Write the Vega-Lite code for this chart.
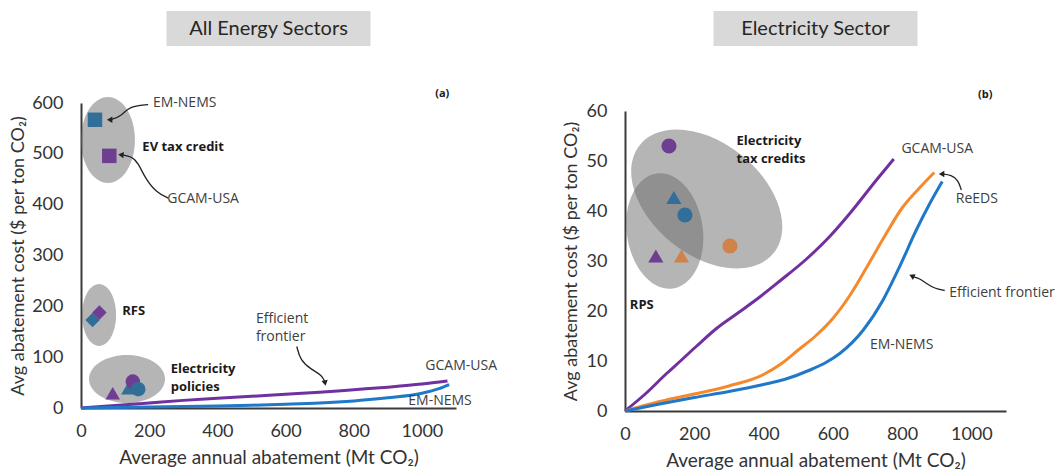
{
  "$schema": "https://vega.github.io/schema/vega-lite/v6.json",
  "background": "white",
  "padding": {"left": 9, "top": 11, "right": 0, "bottom": 0},
  "config": {
    "view": {"stroke": null},
    "font": "Lato",
    "axis": {
      "grid": false, "ticks": false, "domainColor": "#3a3a3a", "domainWidth": 2,
      "labelFont": "Lato", "labelFontSize": 18, "labelColor": "#333333",
      "titleFont": "Lato", "titleFontSize": 18, "titleFontWeight": "normal", "titleColor": "#333333",
      "labelFlush": false, "format": "d"
    }
  },
  "spacing": 65,
  "hconcat": [
    {
      "spacing": 57,
      "center": true,
      "bounds": "flush",
      "vconcat": [
        {
          "width": 204, "height": 35,
          "view": {"fill": "#d9d9d9", "stroke": null},
          "data": {"values": [{"t": "All Energy Sectors"}]},
          "mark": {"type": "text", "fontSize": 20, "font": "Lato", "color": "#262626"},
          "encoding": {"text": {"field": "t"}}
        },
        {
          "width": 375, "height": 305,
          "layer": [
            {
              "data": {"values": [{"group": "EV tax credit", "x": 79, "y": 527}]},
              "mark": {"type": "point", "filled": true, "size": 4, "fill": "#6b6b6b", "opacity": 0.5, "strokeWidth": 0,
                "shape": "M27,0 C27,23.75 14.91,43 0,43 C-14.91,43 -27,23.75 -27,0 C-27,-23.75 -14.91,-43 0,-43 C14.91,-43 27,-23.75 27,0 Z"},
              "encoding": {
                "x": {"field": "x", "type": "quantitative", "scale": {"domain": [0, 1100], "nice": false},
                      "axis": {"values": [0, 200, 400, 600, 800, 1000], "title": "Average annual abatement (Mt CO₂)", "labelPadding": 14, "titlePadding": 8, "titleFontSize": 19}},
                "y": {"field": "y", "type": "quantitative", "scale": {"domain": [0, 600], "nice": false},
                      "axis": {"values": [0, 100, 200, 300, 400, 500, 600], "title": "Avg abatement cost ($ per ton CO₂)", "labelPadding": 18, "titlePadding": 4}}
              }
            },
            {
              "data": {"values": [{"group": "RFS", "x": 53, "y": 183}]},
              "mark": {"type": "point", "filled": true, "size": 4, "fill": "#6b6b6b", "opacity": 0.5, "strokeWidth": 0,
                "shape": "M17,0 C17,17.12 9.39,31 0,31 C-9.39,31 -17,17.12 -17,0 C-17,-17.12 -9.39,-31 0,-31 C9.39,-31 17,-17.12 17,0 Z"},
              "encoding": {
                "x": {"field": "x", "type": "quantitative"},
                "y": {"field": "y", "type": "quantitative"}
              }
            },
            {
              "data": {"values": [{"group": "Electricity policies", "x": 135, "y": 57}]},
              "mark": {"type": "point", "filled": true, "size": 4, "fill": "#6b6b6b", "opacity": 0.5, "strokeWidth": 0,
                "shape": "M38,0 C38,13.26 20.99,24 0,24 C-20.99,24 -38,13.26 -38,0 C-38,-13.26 -20.99,-24 0,-24 C20.99,-24 38,-13.26 38,0 Z"},
              "encoding": {
                "x": {"field": "x", "type": "quantitative"},
                "y": {"field": "y", "type": "quantitative"}
              }
            },
            {
              "data": {"values": [
                {"model": "GCAM-USA", "x": 0, "y": 0}, {"model": "GCAM-USA", "x": 100, "y": 5}, {"model": "GCAM-USA", "x": 200, "y": 10},
                {"model": "GCAM-USA", "x": 300, "y": 15}, {"model": "GCAM-USA", "x": 400, "y": 19}, {"model": "GCAM-USA", "x": 500, "y": 23},
                {"model": "GCAM-USA", "x": 600, "y": 27}, {"model": "GCAM-USA", "x": 700, "y": 31}, {"model": "GCAM-USA", "x": 800, "y": 36},
                {"model": "GCAM-USA", "x": 900, "y": 41}, {"model": "GCAM-USA", "x": 1000, "y": 47}, {"model": "GCAM-USA", "x": 1075, "y": 53},
                {"model": "EM-NEMS", "x": 0, "y": 0}, {"model": "EM-NEMS", "x": 100, "y": 1}, {"model": "EM-NEMS", "x": 200, "y": 2},
                {"model": "EM-NEMS", "x": 300, "y": 3}, {"model": "EM-NEMS", "x": 400, "y": 4}, {"model": "EM-NEMS", "x": 500, "y": 5.5},
                {"model": "EM-NEMS", "x": 600, "y": 7.5}, {"model": "EM-NEMS", "x": 700, "y": 10}, {"model": "EM-NEMS", "x": 800, "y": 14},
                {"model": "EM-NEMS", "x": 900, "y": 20}, {"model": "EM-NEMS", "x": 1000, "y": 29}, {"model": "EM-NEMS", "x": 1050, "y": 38},
                {"model": "EM-NEMS", "x": 1080, "y": 46}
              ]},
              "mark": {"type": "line", "strokeWidth": 3, "interpolate": "monotone"},
              "encoding": {
                "x": {"field": "x", "type": "quantitative"},
                "y": {"field": "y", "type": "quantitative"},
                "stroke": {"field": "model", "type": "nominal", "legend": null,
                  "scale": {"domain": ["GCAM-USA", "EM-NEMS", "ReEDS"], "range": ["#7030a0", "#1f78c8", "#f58a2c"]}}
              }
            },
            {
              "data": {"values": [
                {"model": "EM-NEMS", "policy": "RFS", "x": 34, "y": 173},
                {"model": "GCAM-USA", "policy": "RFS", "x": 54, "y": 188},
                {"model": "GCAM-USA", "policy": "RPS", "x": 93, "y": 29},
                {"model": "EM-NEMS", "policy": "RPS", "x": 139, "y": 39},
                {"model": "GCAM-USA", "policy": "Electricity tax credits", "x": 152, "y": 52},
                {"model": "EM-NEMS", "policy": "Electricity tax credits", "x": 168, "y": 37},
                {"model": "EM-NEMS", "policy": "EV tax credit", "x": 41, "y": 567},
                {"model": "GCAM-USA", "policy": "EV tax credit", "x": 83, "y": 496}
              ]},
              "mark": {"type": "point", "filled": true, "size": 210, "opacity": 1, "strokeWidth": 0},
              "encoding": {
                "x": {"field": "x", "type": "quantitative"},
                "y": {"field": "y", "type": "quantitative"},
                "fill": {"field": "model", "type": "nominal", "legend": null,
                  "scale": {"domain": ["GCAM-USA", "EM-NEMS", "ReEDS"], "range": ["#6e3f91", "#316f99", "#cf8249"]}},
                "shape": {"field": "policy", "type": "nominal", "legend": null,
                  "scale": {"domain": ["EV tax credit", "RFS", "RPS", "Electricity tax credits"], "range": ["square", "diamond", "triangle-up", "circle"]}}
              }
            },
            {
              "data": {"values": [
                {"arrow": 1, "i": 1, "x": 197, "y": 597}, {"arrow": 1, "i": 2, "x": 139, "y": 593}, {"arrow": 1, "i": 3, "x": 119, "y": 574}, {"arrow": 1, "i": 4, "x": 86, "y": 567},
                {"arrow": 2, "i": 1, "x": 256, "y": 413}, {"arrow": 2, "i": 2, "x": 222, "y": 423}, {"arrow": 2, "i": 3, "x": 188, "y": 452}, {"arrow": 2, "i": 4, "x": 168, "y": 482}, {"arrow": 2, "i": 5, "x": 149, "y": 495}, {"arrow": 2, "i": 6, "x": 120, "y": 498},
                {"arrow": 3, "i": 1, "x": 633, "y": 121}, {"arrow": 3, "i": 2, "x": 643, "y": 94}, {"arrow": 3, "i": 3, "x": 677, "y": 75}, {"arrow": 3, "i": 4, "x": 706, "y": 65}, {"arrow": 3, "i": 5, "x": 715, "y": 52}
              ]},
              "mark": {"type": "line", "strokeWidth": 1.3, "color": "#222222", "interpolate": "basis"},
              "encoding": {
                "x": {"field": "x", "type": "quantitative"},
                "y": {"field": "y", "type": "quantitative"},
                "detail": {"field": "arrow", "type": "nominal"},
                "order": {"field": "i", "type": "quantitative"}
              }
            },
            {
              "data": {"values": [
                {"x": 84, "y": 567, "dir": -90},
                {"x": 117, "y": 498, "dir": -85},
                {"x": 716, "y": 49, "dir": 170}
              ]},
              "mark": {"type": "point", "shape": "triangle-up", "filled": true, "size": 40, "color": "#222222", "opacity": 1},
              "encoding": {
                "x": {"field": "x", "type": "quantitative"},
                "y": {"field": "y", "type": "quantitative"},
                "angle": {"field": "dir", "type": "quantitative", "scale": null}
              }
            },
            {
              "data": {"values": [
                {"label": "EM-NEMS", "x": 211, "y": 600},
                {"label": "GCAM-USA", "x": 253, "y": 411},
                {"label": "Efficient", "x": 513, "y": 175},
                {"label": "frontier", "x": 513, "y": 139},
                {"label": "GCAM-USA", "x": 1010, "y": 83},
                {"label": "EM-NEMS", "x": 960, "y": 14}
              ]},
              "mark": {"type": "text", "align": "left", "baseline": "middle", "font": "Open Sans", "fontSize": 14, "color": "#404040"},
              "encoding": {
                "x": {"field": "x", "type": "quantitative"},
                "y": {"field": "y", "type": "quantitative"},
                "text": {"field": "label"}
              }
            },
            {
              "data": {"values": [
                {"label": "EV tax credit", "x": 180, "y": 514},
                {"label": "RFS", "x": 121, "y": 191},
                {"label": "Electricity", "x": 263, "y": 77},
                {"label": "policies", "x": 263, "y": 42}
              ]},
              "mark": {"type": "text", "align": "left", "baseline": "middle", "font": "Open Sans", "fontSize": 13, "fontWeight": "bold", "color": "#1a1a1a"},
              "encoding": {
                "x": {"field": "x", "type": "quantitative"},
                "y": {"field": "y", "type": "quantitative"},
                "text": {"field": "label"}
              }
            },
            {
              "data": {"values": [{"label": "(a)", "x": 1039, "y": 618}]},
              "mark": {"type": "text", "align": "left", "baseline": "middle", "font": "Open Sans", "fontSize": 11, "fontWeight": "bold", "color": "#1a1a1a"},
              "encoding": {
                "x": {"field": "x", "type": "quantitative"},
                "y": {"field": "y", "type": "quantitative"},
                "text": {"field": "label"}
              }
            }
          ]
        }
      ]
    },
    {
      "spacing": 65,
      "center": true,
      "bounds": "flush",
      "vconcat": [
        {
          "width": 204, "height": 35,
          "view": {"fill": "#d9d9d9", "stroke": null},
          "data": {"values": [{"t": "Electricity Sector"}]},
          "mark": {"type": "text", "fontSize": 20, "font": "Lato", "color": "#262626"},
          "encoding": {"text": {"field": "t"}}
        },
        {
          "width": 381, "height": 300,
          "layer": [
            {
              "data": {"values": [{"group": "Electricity tax credits", "x": 236, "y": 42.4}]},
              "mark": {"type": "point", "filled": true, "size": 4, "fill": "#6b6b6b", "opacity": 0.5, "strokeWidth": 0, "angle": 39,
                "shape": "M86,0 C86,30.93 47.5,56 0,56 C-47.5,56 -86,30.93 -86,0 C-86,-30.93 -47.5,-56 0,-56 C47.5,-56 86,-30.93 86,0 Z"},
              "encoding": {
                "x": {"field": "x", "type": "quantitative", "scale": {"domain": [0, 1100], "nice": false},
                      "axis": {"values": [0, 200, 400, 600, 800, 1000], "title": "Average annual abatement (Mt CO₂)", "labelPadding": 14, "titlePadding": 8, "titleFontSize": 19}},
                "y": {"field": "y", "type": "quantitative", "scale": {"domain": [0, 60], "nice": false},
                      "axis": {"values": [0, 10, 20, 30, 40, 50, 60], "title": "Avg abatement cost ($ per ton CO₂)", "labelPadding": 18, "titlePadding": 6}}
              }
            },
            {
              "data": {"values": [{"group": "RPS", "x": 115, "y": 36}]},
              "mark": {"type": "point", "filled": true, "size": 4, "fill": "#6b6b6b", "opacity": 0.5, "strokeWidth": 0, "angle": -8,
                "shape": "M38,0 C38,32.03 20.99,58 0,58 C-20.99,58 -38,32.03 -38,0 C-38,-32.03 -20.99,-58 0,-58 C20.99,-58 38,-32.03 38,0 Z"},
              "encoding": {
                "x": {"field": "x", "type": "quantitative"},
                "y": {"field": "y", "type": "quantitative"}
              }
            },
            {
              "data": {"values": [
                {"model": "GCAM-USA", "x": 0, "y": 0}, {"model": "GCAM-USA", "x": 60, "y": 3.5}, {"model": "GCAM-USA", "x": 120, "y": 7.5},
                {"model": "GCAM-USA", "x": 160, "y": 10}, {"model": "GCAM-USA", "x": 207, "y": 13}, {"model": "GCAM-USA", "x": 264, "y": 16.5},
                {"model": "GCAM-USA", "x": 330, "y": 19.8}, {"model": "GCAM-USA", "x": 389, "y": 22.8}, {"model": "GCAM-USA", "x": 447, "y": 26},
                {"model": "GCAM-USA", "x": 524, "y": 30.4}, {"model": "GCAM-USA", "x": 591, "y": 34.9}, {"model": "GCAM-USA", "x": 649, "y": 39.5},
                {"model": "GCAM-USA", "x": 726, "y": 46.2}, {"model": "GCAM-USA", "x": 776, "y": 50.4},
                {"model": "ReEDS", "x": 0, "y": 0}, {"model": "ReEDS", "x": 100, "y": 1.9}, {"model": "ReEDS", "x": 200, "y": 3.4},
                {"model": "ReEDS", "x": 300, "y": 5}, {"model": "ReEDS", "x": 400, "y": 7.3}, {"model": "ReEDS", "x": 450, "y": 9.4},
                {"model": "ReEDS", "x": 500, "y": 12.2}, {"model": "ReEDS", "x": 550, "y": 15}, {"model": "ReEDS", "x": 600, "y": 18.5},
                {"model": "ReEDS", "x": 650, "y": 23.2}, {"model": "ReEDS", "x": 700, "y": 29}, {"model": "ReEDS", "x": 750, "y": 35},
                {"model": "ReEDS", "x": 800, "y": 40.6}, {"model": "ReEDS", "x": 850, "y": 44.6}, {"model": "ReEDS", "x": 893, "y": 47.7},
                {"model": "EM-NEMS", "x": 0, "y": 0}, {"model": "EM-NEMS", "x": 100, "y": 1.4}, {"model": "EM-NEMS", "x": 200, "y": 2.7},
                {"model": "EM-NEMS", "x": 300, "y": 3.9}, {"model": "EM-NEMS", "x": 400, "y": 5.3},
                {"model": "EM-NEMS", "x": 460, "y": 6.3}, {"model": "EM-NEMS", "x": 534, "y": 8.2}, {"model": "EM-NEMS", "x": 580, "y": 9.7},
                {"model": "EM-NEMS", "x": 620, "y": 11.5}, {"model": "EM-NEMS", "x": 688, "y": 16.2}, {"model": "EM-NEMS", "x": 745, "y": 22.2},
                {"model": "EM-NEMS", "x": 793, "y": 28.9}, {"model": "EM-NEMS", "x": 841, "y": 36.2}, {"model": "EM-NEMS", "x": 880, "y": 41.5},
                {"model": "EM-NEMS", "x": 916, "y": 45.9}
              ]},
              "mark": {"type": "line", "strokeWidth": 3, "interpolate": "monotone"},
              "encoding": {
                "x": {"field": "x", "type": "quantitative"},
                "y": {"field": "y", "type": "quantitative"},
                "stroke": {"field": "model", "type": "nominal", "legend": null,
                  "scale": {"domain": ["GCAM-USA", "EM-NEMS", "ReEDS"], "range": ["#7030a0", "#1f78c8", "#f58a2c"]}}
              }
            },
            {
              "data": {"values": [
                {"model": "GCAM-USA", "policy": "Electricity tax credits", "x": 127, "y": 53},
                {"model": "EM-NEMS", "policy": "RPS", "x": 141, "y": 42.7},
                {"model": "EM-NEMS", "policy": "Electricity tax credits", "x": 173, "y": 39.2},
                {"model": "ReEDS", "policy": "Electricity tax credits", "x": 303, "y": 33},
                {"model": "GCAM-USA", "policy": "RPS", "x": 89, "y": 31},
                {"model": "ReEDS", "policy": "RPS", "x": 163, "y": 31}
              ]},
              "mark": {"type": "point", "filled": true, "size": 230, "opacity": 1, "strokeWidth": 0},
              "encoding": {
                "x": {"field": "x", "type": "quantitative"},
                "y": {"field": "y", "type": "quantitative"},
                "fill": {"field": "model", "type": "nominal", "legend": null,
                  "scale": {"domain": ["GCAM-USA", "EM-NEMS", "ReEDS"], "range": ["#7a3f9a", "#3a7096", "#d0834a"]}},
                "shape": {"field": "policy", "type": "nominal", "legend": null,
                  "scale": {"domain": ["EV tax credit", "RFS", "RPS", "Electricity tax credits"], "range": ["square", "diamond", "triangle-up", "circle"]}}
              }
            },
            {
              "data": {"values": [
                {"arrow": 1, "i": 1, "x": 971, "y": 44.2}, {"arrow": 1, "i": 2, "x": 962, "y": 46.2}, {"arrow": 1, "i": 3, "x": 942, "y": 47.2}, {"arrow": 1, "i": 4, "x": 916, "y": 47.4},
                {"arrow": 2, "i": 1, "x": 923, "y": 24.1}, {"arrow": 2, "i": 2, "x": 894, "y": 24.5}, {"arrow": 2, "i": 3, "x": 870, "y": 25.5}, {"arrow": 2, "i": 4, "x": 851, "y": 26.5}, {"arrow": 2, "i": 5, "x": 830, "y": 26.9}
              ]},
              "mark": {"type": "line", "strokeWidth": 1.3, "color": "#222222", "interpolate": "basis"},
              "encoding": {
                "x": {"field": "x", "type": "quantitative"},
                "y": {"field": "y", "type": "quantitative"},
                "detail": {"field": "arrow", "type": "nominal"},
                "order": {"field": "i", "type": "quantitative"}
              }
            },
            {
              "data": {"values": [
                {"x": 914, "y": 47.4, "dir": -90},
                {"x": 828, "y": 27, "dir": -65}
              ]},
              "mark": {"type": "point", "shape": "triangle-up", "filled": true, "size": 40, "color": "#222222", "opacity": 1},
              "encoding": {
                "x": {"field": "x", "type": "quantitative"},
                "y": {"field": "y", "type": "quantitative"},
                "angle": {"field": "dir", "type": "quantitative", "scale": null}
              }
            },
            {
              "data": {"values": [
                {"label": "GCAM-USA", "x": 798, "y": 52.4},
                {"label": "ReEDS", "x": 955, "y": 42.4},
                {"label": "Efficient frontier", "x": 936, "y": 23.7},
                {"label": "EM-NEMS", "x": 707, "y": 13.2}
              ]},
              "mark": {"type": "text", "align": "left", "baseline": "middle", "font": "Open Sans", "fontSize": 14, "color": "#404040"},
              "encoding": {
                "x": {"field": "x", "type": "quantitative"},
                "y": {"field": "y", "type": "quantitative"},
                "text": {"field": "label"}
              }
            },
            {
              "data": {"values": [
                {"label": "Electricity", "x": 322, "y": 54},
                {"label": "tax credits", "x": 322, "y": 50.4},
                {"label": "RPS", "x": 14, "y": 21.3}
              ]},
              "mark": {"type": "text", "align": "left", "baseline": "middle", "font": "Open Sans", "fontSize": 13, "fontWeight": "bold", "color": "#1a1a1a"},
              "encoding": {
                "x": {"field": "x", "type": "quantitative"},
                "y": {"field": "y", "type": "quantitative"},
                "text": {"field": "label"}
              }
            },
            {
              "data": {"values": [{"label": "(b)", "x": 1019, "y": 63.2}]},
              "mark": {"type": "text", "align": "left", "baseline": "middle", "font": "Open Sans", "fontSize": 11, "fontWeight": "bold", "color": "#1a1a1a"},
              "encoding": {
                "x": {"field": "x", "type": "quantitative"},
                "y": {"field": "y", "type": "quantitative"},
                "text": {"field": "label"}
              }
            }
          ]
        }
      ]
    }
  ]
}
